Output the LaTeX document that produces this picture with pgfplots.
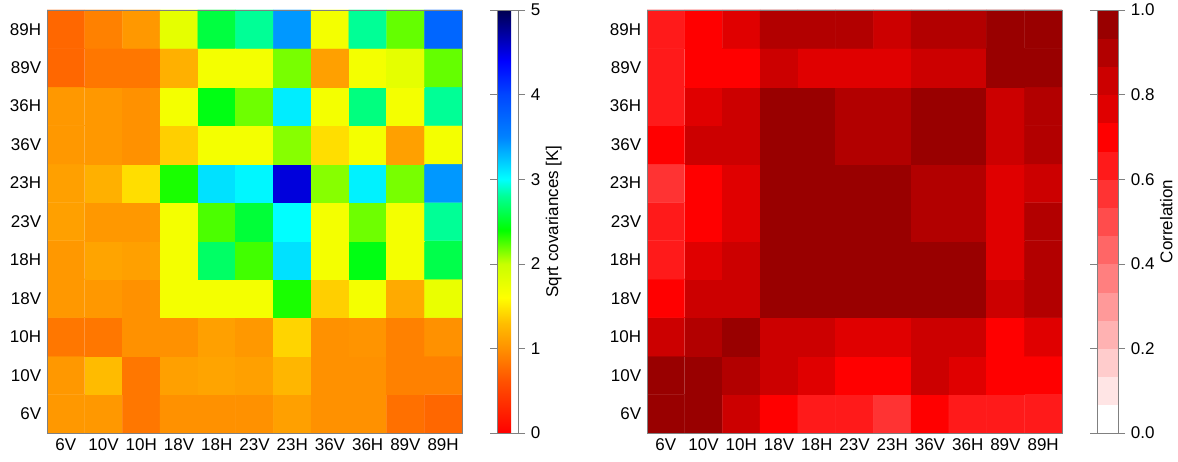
\documentclass[border=0pt]{standalone}
\usepackage{pgfplots}
\pgfplotsset{compat=1.18}
\usepackage{fontspec}
\setmainfont{Liberation Sans}

\pgfplotsset{
  colormap={covjet}{rgb255(0pt)=(255,0,0) rgb255(6pt)=(255,80,0) rgb255(10pt)=(255,145,0)
    rgb255(13pt)=(255,190,0) rgb255(16pt)=(255,255,0) rgb255(20pt)=(200,255,0)
    rgb255(24pt)=(0,255,0) rgb255(28pt)=(0,255,150) rgb255(30pt)=(0,255,255)
    rgb255(35pt)=(0,130,255) rgb255(40pt)=(0,70,255) rgb255(44pt)=(0,0,255) rgb255(50pt)=(0,0,80)},
  colormap={corr}{rgb255=(255,255,255) rgb255=(255,229,229) rgb255=(255,204,204)
    rgb255=(255,178,178) rgb255=(255,153,153) rgb255=(255,127,127) rgb255=(255,102,102)
    rgb255=(255,76,76) rgb255=(255,51,51) rgb255=(255,26,26) rgb255=(255,0,0)
    rgb255=(224,0,0) rgb255=(204,0,0) rgb255=(178,0,0) rgb255=(153,0,0)},
  heat/.style={
    scale only axis, width=415pt, height=423pt,
    anchor=south west,
    xmin=-0.5, xmax=10.5, ymin=-0.5, ymax=10.5,
    xtick={0,...,10}, ytick={0,...,10},
    xticklabels={6V,10V,10H,18V,18H,23V,23H,36V,36H,89V,89H},
    yticklabels={6V,10V,10H,18V,18H,23V,23H,36V,36H,89V,89H},
    major tick length=0pt,
    axis line style={gray},
    axis on top,
    colorbar right,
    colorbar shift/.style={},
  },
  cbar/.style={
    at={(parent axis.north east)}, anchor=north west, xshift=35pt,
    width=21pt,
    axis line style={gray},
    major tick length=7pt,
    tick align=outside,
    tick style={gray},
    yticklabel style={/pgf/number format/assume math mode=true},
    ylabel shift=-6pt,
  },
}

\begin{document}
\fontsize{17}{20}\selectfont
\begin{tikzpicture}
\useasboundingbox (0,0) rectangle (1178pt,462pt);

% square-root covariances
\begin{axis}[heat, at={(47pt,29pt)},
    colormap name=covjet,
    point meta min=0, point meta max=5,
    colorbar style={cbar, ytick={0,1,2,3,4,5}, ylabel={Sqrt covariances [K]}},
  ]
  \addplot[matrix plot*, mesh/cols=11, point meta=explicit] table[row sep=\\, meta=c] {
    x y c\\
    0 0 1.05\\ 1 0 1.05\\ 2 0 0.84\\ 3 0 1.0\\ 4 0 1.0\\ 5 0 1.0\\ 6 0 1.1\\ 7 0 1.0\\ 8 0 1.0\\ 9 0 0.8\\ 10 0 0.74\\
    0 1 1.05\\ 1 1 1.28\\ 2 1 0.84\\ 3 1 1.1\\ 4 1 1.13\\ 5 1 1.1\\ 6 1 1.25\\ 7 1 1.0\\ 8 1 1.0\\ 9 1 0.9\\ 10 1 0.9\\
    0 2 0.84\\ 1 2 0.84\\ 2 2 1.0\\ 3 2 1.0\\ 4 2 1.1\\ 5 2 1.05\\ 6 2 1.4\\ 7 2 1.0\\ 8 2 1.02\\ 9 2 0.9\\ 10 2 1.0\\
    0 3 1.05\\ 1 3 1.05\\ 2 3 1.0\\ 3 3 1.68\\ 4 3 1.68\\ 5 3 1.68\\ 6 3 2.35\\ 7 3 1.38\\ 8 3 1.68\\ 9 3 1.17\\ 10 3 1.75\\
    0 4 1.05\\ 1 4 1.13\\ 2 4 1.1\\ 3 4 1.68\\ 4 4 2.67\\ 5 4 2.27\\ 6 4 3.12\\ 7 4 1.68\\ 8 4 2.45\\ 9 4 1.68\\ 10 4 2.6\\
    0 5 1.1\\ 1 5 1.05\\ 2 5 1.05\\ 3 5 1.68\\ 4 5 2.25\\ 5 5 2.55\\ 6 5 3.0\\ 7 5 1.68\\ 8 5 2.18\\ 9 5 1.68\\ 10 5 2.8\\
    0 6 1.1\\ 1 6 1.21\\ 2 6 1.45\\ 3 6 2.35\\ 4 6 3.12\\ 5 6 3.03\\ 6 6 4.52\\ 7 6 2.13\\ 8 6 3.05\\ 9 6 2.16\\ 10 6 3.41\\
    0 7 1.05\\ 1 7 1.05\\ 2 7 1.0\\ 3 7 1.38\\ 4 7 1.68\\ 5 7 1.68\\ 6 7 2.13\\ 7 7 1.45\\ 8 7 1.68\\ 9 7 1.1\\ 10 7 1.68\\
    0 8 1.05\\ 1 8 1.05\\ 2 8 1.0\\ 3 8 1.68\\ 4 8 2.45\\ 5 8 2.18\\ 6 8 3.07\\ 7 8 1.68\\ 8 8 2.74\\ 9 8 1.68\\ 10 8 2.8\\
    0 9 0.74\\ 1 9 0.84\\ 2 9 0.84\\ 3 9 1.21\\ 4 9 1.68\\ 5 9 1.68\\ 6 9 2.16\\ 7 9 1.1\\ 8 9 1.68\\ 9 9 1.79\\ 10 9 2.2\\
    0 10 0.74\\ 1 10 0.9\\ 2 10 1.05\\ 3 10 1.79\\ 4 10 2.57\\ 5 10 2.8\\ 6 10 3.41\\ 7 10 1.68\\ 8 10 2.8\\ 9 10 2.2\\ 10 10 3.73\\
  };
\end{axis}

% correlation
\begin{axis}[heat, at={(647pt,29pt)},
    colormap name=corr, colormap access=piecewise constant,
    point meta min=0, point meta max=1,
    colorbar style={cbar, ytick={0,0.2,0.4,0.6,0.8,1},
      yticklabel style={/pgf/number format/.cd, fixed, fixed zerofill, precision=1},
      ylabel={Correlation}},
  ]
  \addplot[matrix plot*, mesh/cols=11, point meta=explicit] table[row sep=\\, meta=c] {
    x y c\\
    0 0 0.97\\ 1 0 0.97\\ 2 0 0.83\\ 3 0 0.70\\ 4 0 0.63\\ 5 0 0.63\\ 6 0 0.57\\ 7 0 0.70\\ 8 0 0.63\\ 9 0 0.63\\ 10 0 0.63\\
    0 1 0.97\\ 1 1 0.97\\ 2 1 0.90\\ 3 1 0.83\\ 4 1 0.77\\ 5 1 0.70\\ 6 1 0.70\\ 7 1 0.83\\ 8 1 0.77\\ 9 1 0.70\\ 10 1 0.70\\
    0 2 0.83\\ 1 2 0.90\\ 2 2 0.97\\ 3 2 0.83\\ 4 2 0.83\\ 5 2 0.77\\ 6 2 0.77\\ 7 2 0.83\\ 8 2 0.83\\ 9 2 0.70\\ 10 2 0.77\\
    0 3 0.70\\ 1 3 0.83\\ 2 3 0.83\\ 3 3 0.97\\ 4 3 0.97\\ 5 3 0.97\\ 6 3 0.97\\ 7 3 0.97\\ 8 3 0.97\\ 9 3 0.83\\ 10 3 0.90\\
    0 4 0.63\\ 1 4 0.77\\ 2 4 0.83\\ 3 4 0.97\\ 4 4 0.97\\ 5 4 0.97\\ 6 4 0.97\\ 7 4 0.97\\ 8 4 0.97\\ 9 4 0.77\\ 10 4 0.90\\
    0 5 0.63\\ 1 5 0.70\\ 2 5 0.77\\ 3 5 0.97\\ 4 5 0.97\\ 5 5 0.97\\ 6 5 0.97\\ 7 5 0.90\\ 8 5 0.90\\ 9 5 0.77\\ 10 5 0.90\\
    0 6 0.57\\ 1 6 0.70\\ 2 6 0.77\\ 3 6 0.97\\ 4 6 0.97\\ 5 6 0.97\\ 6 6 0.97\\ 7 6 0.90\\ 8 6 0.90\\ 9 6 0.77\\ 10 6 0.83\\
    0 7 0.70\\ 1 7 0.83\\ 2 7 0.83\\ 3 7 0.97\\ 4 7 0.97\\ 5 7 0.90\\ 6 7 0.90\\ 7 7 0.97\\ 8 7 0.97\\ 9 7 0.83\\ 10 7 0.90\\
    0 8 0.63\\ 1 8 0.77\\ 2 8 0.83\\ 3 8 0.97\\ 4 8 0.97\\ 5 8 0.90\\ 6 8 0.90\\ 7 8 0.97\\ 8 8 0.97\\ 9 8 0.83\\ 10 8 0.90\\
    0 9 0.63\\ 1 9 0.70\\ 2 9 0.70\\ 3 9 0.83\\ 4 9 0.77\\ 5 9 0.77\\ 6 9 0.77\\ 7 9 0.83\\ 8 9 0.83\\ 9 9 0.97\\ 10 9 0.97\\
    0 10 0.63\\ 1 10 0.70\\ 2 10 0.77\\ 3 10 0.90\\ 4 10 0.90\\ 5 10 0.90\\ 6 10 0.83\\ 7 10 0.90\\ 8 10 0.90\\ 9 10 0.97\\ 10 10 0.97\\
  };
\end{axis}
\end{tikzpicture}
\end{document}
